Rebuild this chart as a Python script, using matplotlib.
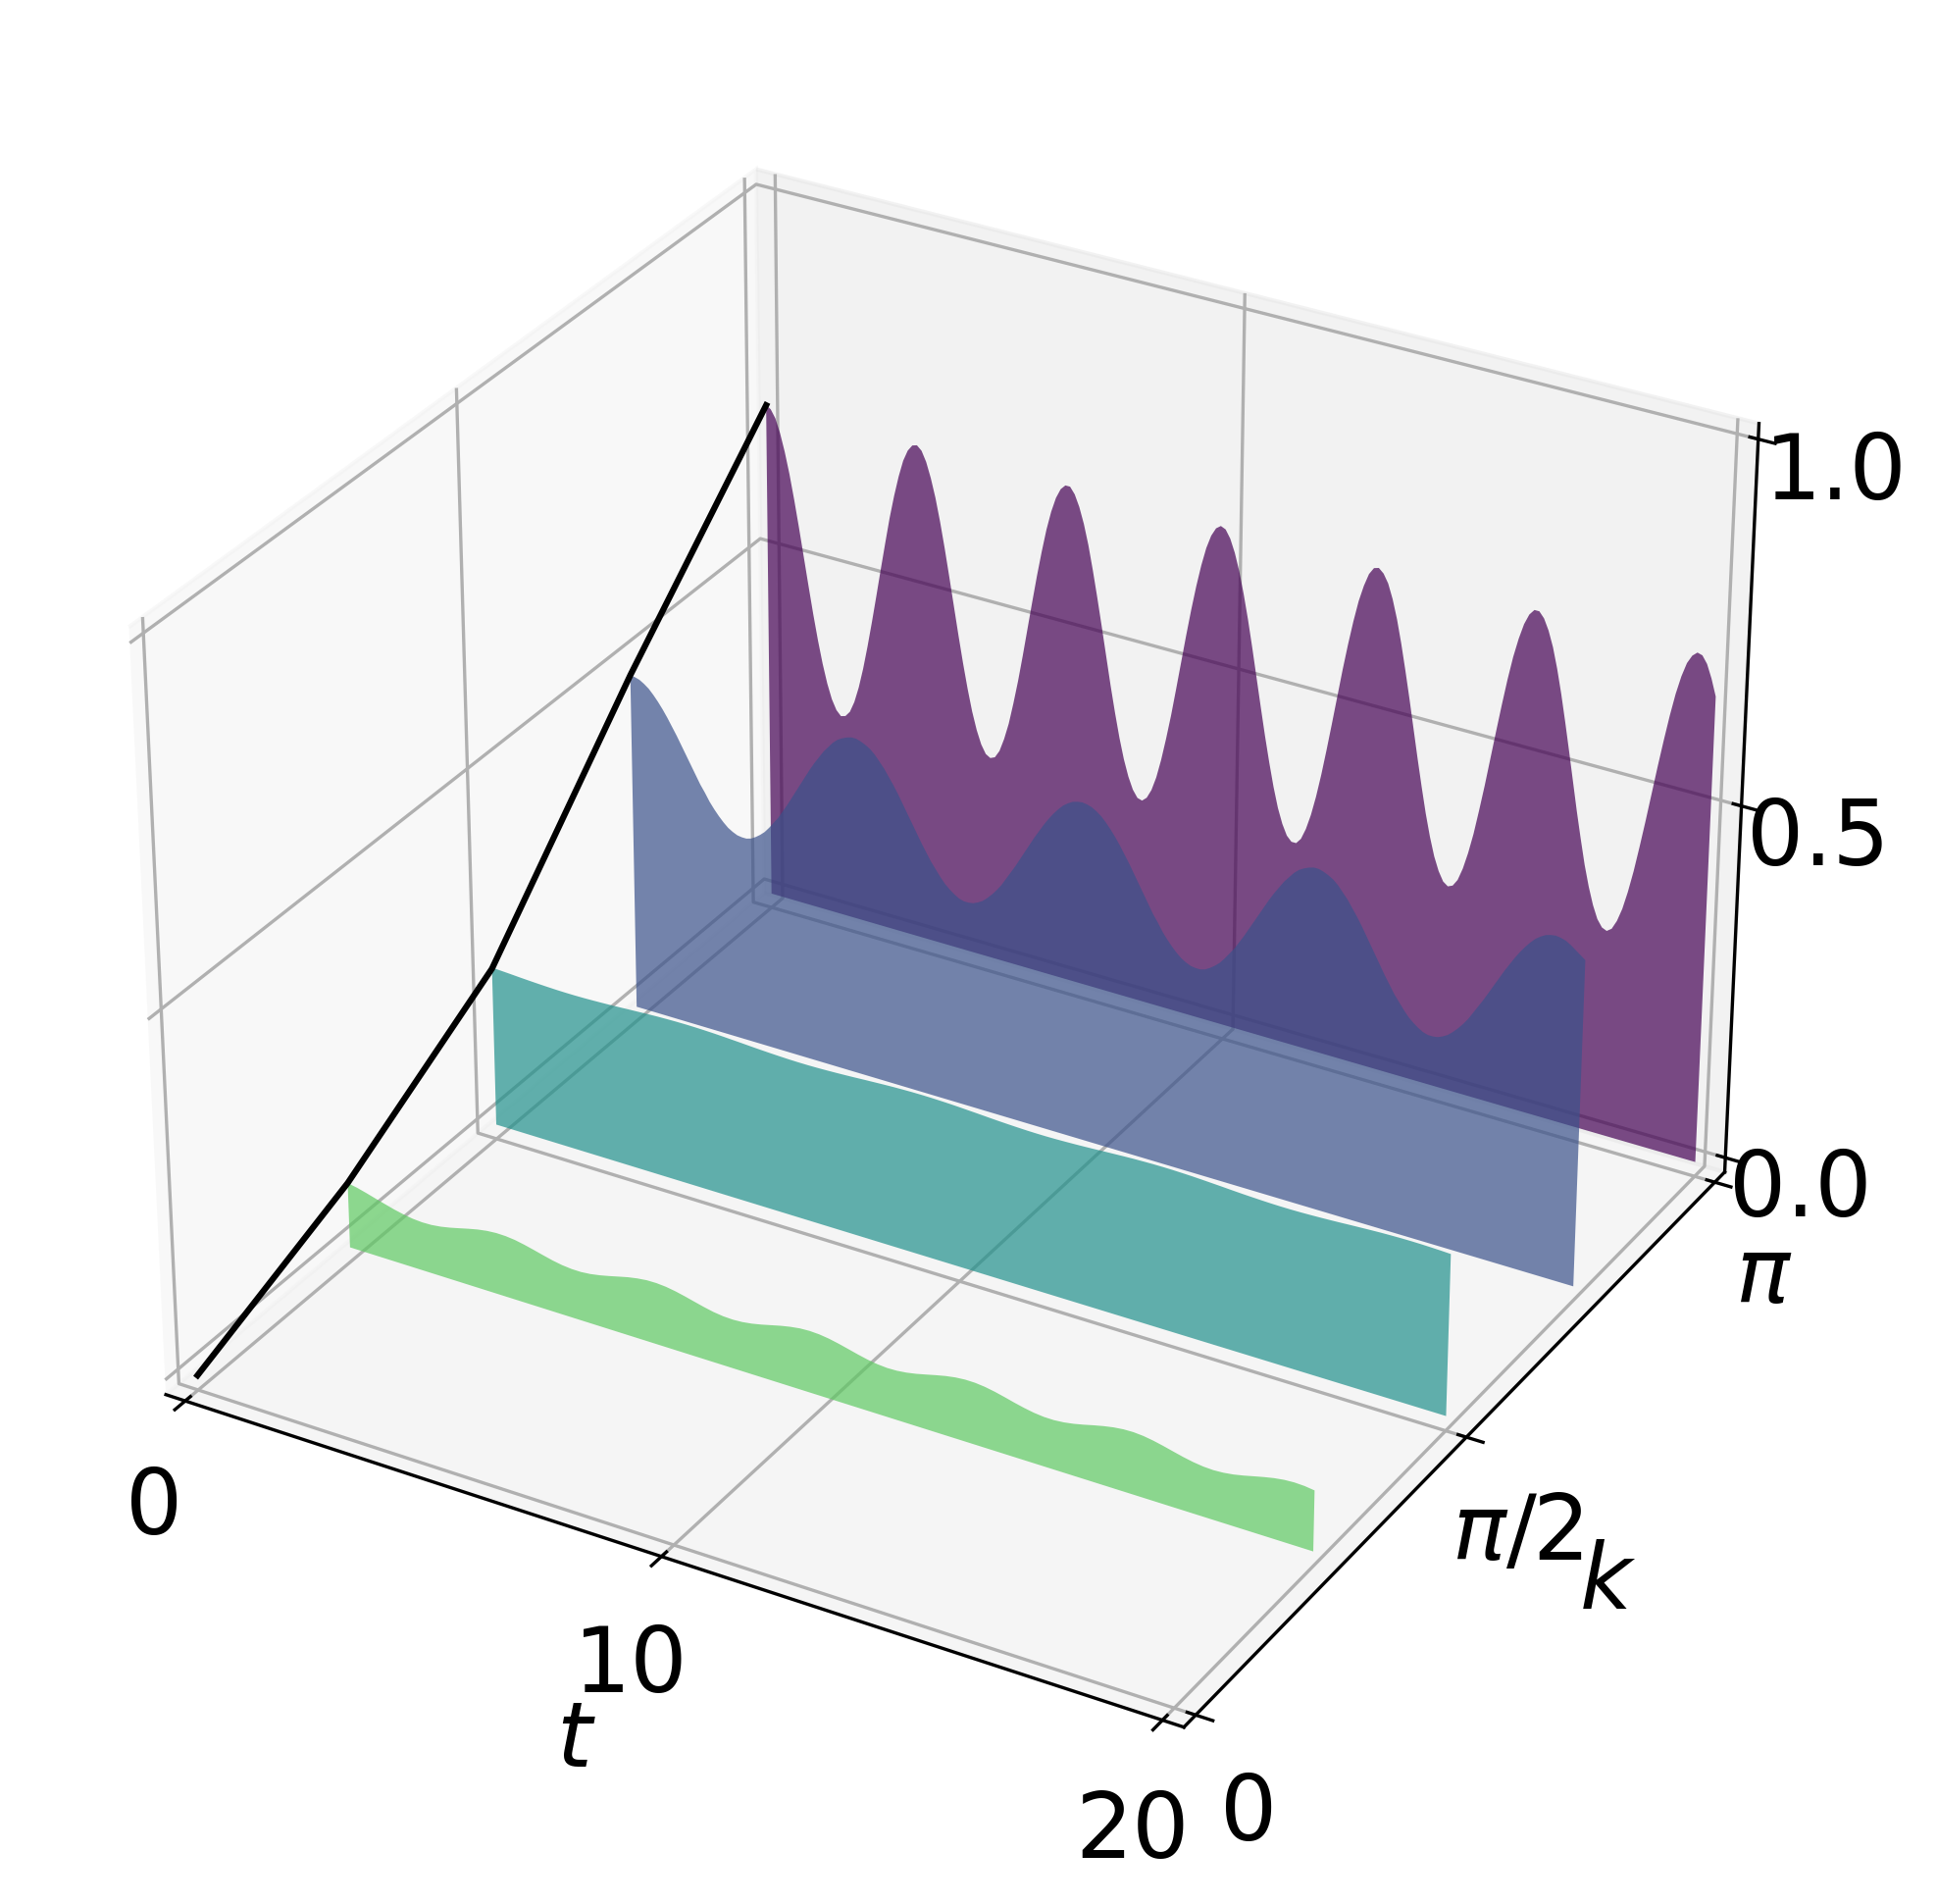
import numpy as np
from matplotlib import pyplot as plt
from matplotlib.collections import PolyCollection

t_coarse = np.arange(0, 20.01, 0.2)
t_fine = np.arange(0, 20.01, 0.1)

k_values = [np.pi / 4, np.pi / 2, 3 * np.pi / 4, np.pi]
k_line = [0, np.pi / 4, np.pi / 2, 3 * np.pi / 4, np.pi]
z_line = [0.0, 0.092, 0.225, 0.48, 0.71]
colors = ['#5ec962', '#21918c', '#3b528b', '#440154']

z_green = [.0920, .0895, .0860, .0822, .0785, .0749, .0720, .0699, .0690, .0694, .0711, .0738, .0771, .0805, .0836,
           .0858, .0869, .0867, .0853, .0827, .0795, .0761, .0729, .0705, .0692, .0691, .0704, .0728, .0759, .0793,
           .0826, .0851, .0867, .0869, .0859, .0837, .0807, .0773, .0740, .0712, .0695, .0690, .0698, .0718, .0747,
           .0781, .0815, .0843, .0863, .0870, .0864, .0846, .0818, .0785, .0751, .0721, .0700, .0690, .0694, .0710,
           .0736, .0769, .0803, .0834, .0857, .0869, .0868, .0854, .0829, .0797, .0762, .0731, .0706, .0692, .0691,
           .0703, .0726, .0757, .0792, .0824, .0850, .0866, .0870, .0860, .0838, .0808, .0774, .0741, .0714, .0696,
           .0690, .0698, .0717, .0746, .0780, .0813, .0842, .0862, .0870, .0865, .0847]

z_teal = [.2266, .2259, .2252, .2244, .2237, .2231, .2226, .2222, .2220, .2220, .2222, .2226, .2231, .2237, .2244,
          .2252, .2259, .2266, .2272, .2276, .2279, .2280, .2279, .2276, .2272,
          .2266, .2259, .2252, .2244, .2237, .2231, .2226, .2222, .2220, .2220, .2222, .2226, .2231, .2237, .2244,
          .2252, .2259, .2266, .2272, .2276, .2279, .2280, .2279, .2276, .2272,
          .2266, .2259, .2252, .2244, .2237, .2231, .2226, .2222, .2220, .2220, .2222, .2226, .2231, .2237, .2244,
          .2252, .2259, .2266, .2272, .2276, .2279, .2280, .2279, .2276, .2272,
          .2266, .2259, .2252, .2244, .2237, .2231, .2226, .2222, .2220, .2220, .2222, .2226, .2231, .2237, .2244,
          .2252, .2259, .2266, .2272, .2276, .2279, .2280, .2279, .2276, .2272,
          .2266]

z_blue = [.480, .479, .477, .473, .468, .461, .453, .444, .434, .423, .412, .400, .388, .376, .364, .352, .342,
          .331, .322, .314, .307, .301, .297, .294, .293, .293, .295, .299, .304, .310, .318, .327, .336, .347,
          .358, .370, .382, .394, .406, .418, .429, .439, .449, .457, .465, .471, .475, .478, .480, .480, .478,
          .475, .471, .465, .457, .449, .439, .429, .418, .406, .394, .382, .370, .358, .347, .336, .327, .318,
          .310, .304, .299, .295, .293, .293, .294, .297, .301, .307, .314, .322, .331, .342, .353, .364, .376,
          .388, .400, .412, .423, .434, .444, .453, .461, .468, .473, .477, .479,
          .480, .479, .477, .473, .468, .461, .453, .444, .434, .423, .412, .400, .388, .376, .364, .352, .342,
          .331, .322, .314, .307, .301, .297, .294, .293, .293, .295, .299, .304, .310, .318, .327, .336, .347,
          .358, .370, .382, .394, .406, .418, .429, .439, .449, .457, .465, .471, .475, .478, .480, .480, .478,
          .475, .471, .465, .457, .449, .439, .429, .418, .406, .394, .382, .370, .358, .347, .336, .327, .318,
          .310, .304, .299, .295, .293, .293, .294, .297, .301, .307, .314, .322, .331, .342, .353, .364, .376,
          .388, .400, .412, .423, .434, .444, .453, .461, .468, .473, .477, .479,
          .480, .479, .477, .473, .468, .463, .458]

z_purple = [.710, .706, .695, .676, .651, .621, .586, .548, .508, .468, .429, .393, .361, .334, .313, .299, .292,
            .294, .302, .318, .341, .370, .404, .441, .480, .520, .559, .597, .630, .659, .683, .699, .708,
            .710, .704, .690, .669, .643, .611, .575, .536, .496, .456, .418, .383, .352, .327, .308, .296,
            .292, .295, .306, .325, .349, .380, .414, .452, .492, .532, .571, .607, .640, .667, .688, .702,
            .709, .709, .700, .684, .662, .634, .600, .563, .524, .484, .444, .407, .373, .344, .321, .304,
            .294, .292, .298, .311, .331, .358, .390, .425, .464, .504, .544, .582, .617, .648, .674, .693,
            .705, .710, .707, .696, .678, .654, .624, .590, .552, .512, .472, .433, .397, .364, .336, .315,
            .300, .293, .293, .301, .317, .339, .367, .400, .437, .476, .516, .556, .593, .627, .657, .680,
            .698, .708, .710, .704, .692, .672, .646, .614, .578, .540, .500, .460, .422, .386, .355, .329,
            .310, .297, .292, .295, .305, .323, .347, .376, .411, .448, .488, .528, .567, .604, .637, .664,
            .686, .701, .709, .709, .701, .686, .665, .637, .604, .567, .528, .488, .448, .411, .376, .347,
            .323, .305, .295, .292, .297, .310, .329, .355, .386, .422, .460, .500, .540, .578, .614, .646,
            .672, .692, .704, .710, .708, .698, .680, .657]

plt.rcParams['font.size'] = 22

fig = plt.figure(figsize=(1975 / 300, 1941 / 300), dpi=300)
ax = fig.add_axes([0.0068, 0.0328, 0.952, 0.952], projection='3d')
ax.computed_zorder = False

curves = [z_green, z_teal, z_blue, z_purple]
grids = [t_coarse, t_coarse, t_fine, t_fine]
for k, t, z, col in reversed(list(zip(k_values, grids, curves, colors))):
    verts = [(t[0], 0.0)] + list(zip(t, z)) + [(t[-1], 0.0)]
    poly = PolyCollection([verts], facecolors=col, edgecolors='none', alpha=0.7)
    ax.add_collection3d(poly, zs=k, zdir='y')

ax.plot(np.zeros(len(k_line)), k_line, z_line, color='black')

ax.set_xlim(-20 / 48, 20 + 20 / 48)
ax.set_ylim(-np.pi / 48, np.pi + np.pi / 48)
ax.set_zlim(-1 / 48, 1 + 1 / 48)
ax.set_xticks([0, 10, 20])
ax.set_yticks([0, np.pi / 2, np.pi])
ax.set_yticklabels(['0', r'$\pi/2$', r'$\pi$'])
ax.set_zticks([0, 0.5, 1])
ax.set_xlabel('$t$', fontsize=22, labelpad=11)
ax.set_ylabel('$k$', fontsize=22, labelpad=11)

fig.savefig('out.png', dpi=300)
